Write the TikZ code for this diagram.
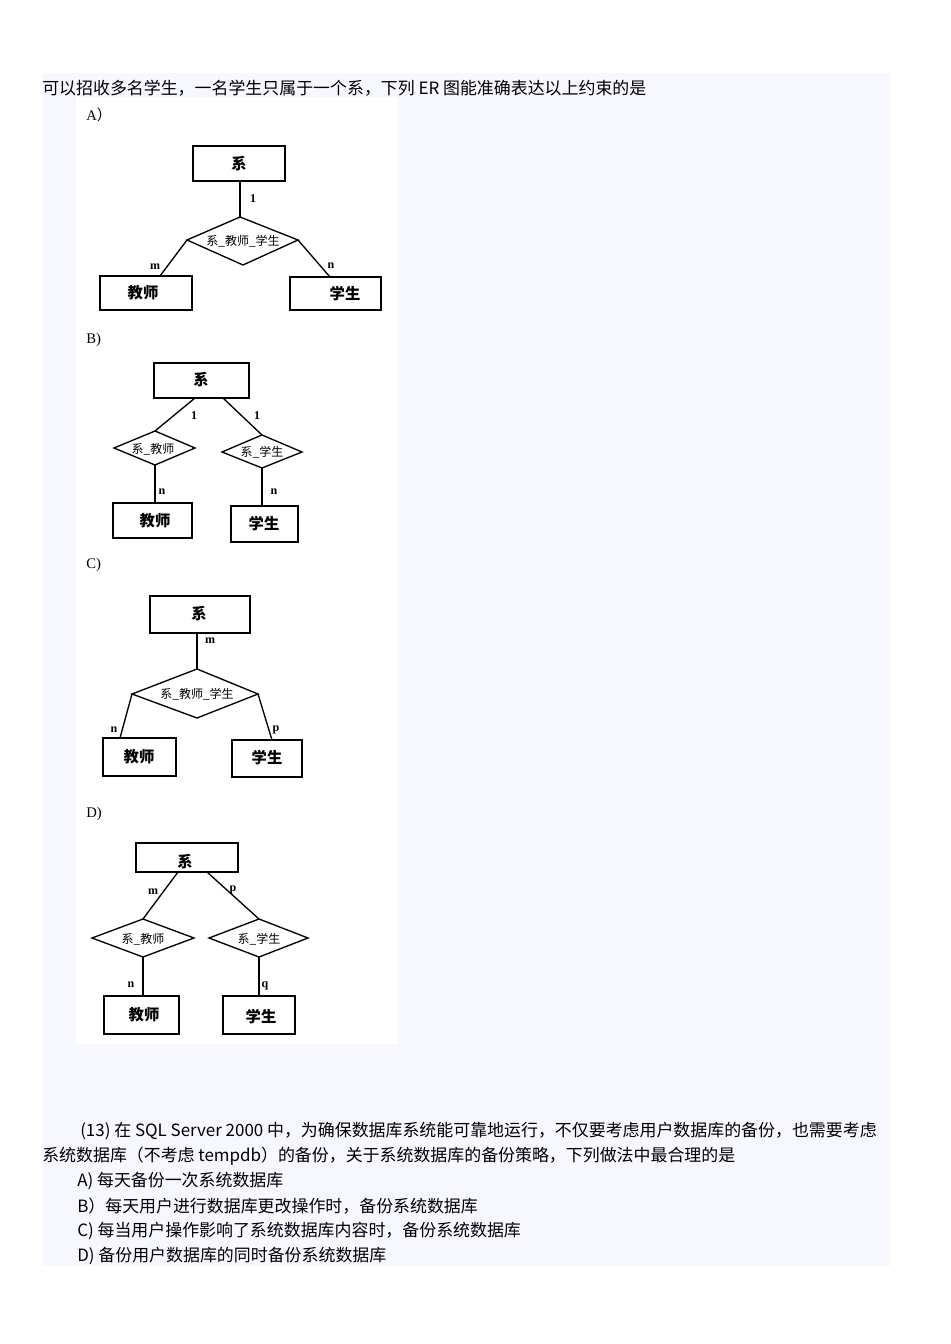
\documentclass[tikz,border=0pt]{standalone}
\usepackage{fontspec}
\setmainfont{DejaVu Sans}
\newfontfamily\cjk{Noto Sans CJK SC}
\newfontfamily\serifl{Liberation Serif}
\begin{document}
\begin{tikzpicture}[x=0.75pt,y=-0.75pt,
  ent/.style={draw,line width=1pt,inner sep=0pt},
  ln/.style={line width=1pt},
  lab/.style={font=\serifl\bfseries\fontsize{9}{10}\selectfont,inner sep=0pt},
  dtxt/.style={font=\cjk\bfseries\fontsize{11.5}{13}\selectfont,inner sep=0pt},
  stxt/.style={font=\cjk\fontsize{9}{10}\selectfont,inner sep=0pt},
  opt/.style={font=\serifl\fontsize{11}{12}\selectfont,inner sep=0pt,anchor=west},
  body/.style={font=\cjk\fontsize{12.7}{14}\selectfont,inner sep=0pt,anchor=west}]
\useasboundingbox (0,0) rectangle (950,1344);
\fill[white] (0,0) rectangle (950,1344);
\fill[blue!3!white] (42,73) rectangle (890,1266);
\fill[white] (76,97) rectangle (398,1044);
\node[body] (t0) at (42,88) {可以招收多名学生，一名学生只属于一个系，下列 ER 图能准确表达以上约束的是};
% A
\node[opt] (la) at (86,115) {A{\cjk ）}};
\draw[ent] (193,146) rectangle (285,181); \node[dtxt] (a1) at (239,164) {系};
\draw[ln] (240,181) -- (240,217);
\draw[ln] (240,217) -- (298,240) -- (243,265) -- (187,240) -- cycle;
\node[stxt] (a2) at (243,241) {系\_教师\_学生};
\node[lab] at (253,199) {1};
\draw[ln] (187,240) -- (160,276); \node[lab] at (155,267) {m};
\draw[ln] (298,240) -- (330,277); \node[lab] at (331,266) {n};
\draw[ent] (100,276) rectangle (192,310); \node[dtxt] (a3) at (143,293) {教师};
\draw[ent] (290,277) rectangle (381,310); \node[dtxt] (a4) at (345,294) {学生};
% B
\node[opt] (lb) at (86,340) {B)};
\draw[ent] (154,363) rectangle (249,398); \node[dtxt] (b1) at (201,380) {系};
\draw[ln] (195,398) -- (155,431); \node[lab] at (194,416) {1};
\draw[ln] (223,398) -- (262,435); \node[lab] at (257,416) {1};
\draw[ln] (155,431) -- (195,448) -- (155,465) -- (114,448) -- cycle;
\node[stxt] at (153,449) {系\_教师};
\draw[ln] (262,435) -- (302,452) -- (262,468) -- (222,452) -- cycle;
\node[stxt] at (262,452) {系\_学生};
\draw[ln] (155,465) -- (155,503); \node[lab] at (162,492) {n};
\draw[ln] (262,468) -- (262,506); \node[lab] at (274,492) {n};
\draw[ent] (113,503) rectangle (192,538); \node[dtxt] at (155,521) {教师};
\draw[ent] (231,506) rectangle (298,542); \node[dtxt] at (264,524) {学生};
% C
\node[opt] (lc) at (86,565) {C)};
\draw[ent] (150,596) rectangle (250,633); \node[dtxt] at (199,614) {系};
\draw[ln] (197,633) -- (197,669); \node[lab] at (210,641) {m};
\draw[ln] (197,669) -- (258,694) -- (197,718) -- (132,694) -- cycle;
\node[stxt] at (197,694) {系\_教师\_学生};
\draw[ln] (132,694) -- (120,738); \node[lab] at (114,730) {n};
\draw[ln] (258,694) -- (272,740); \node[lab] at (276,730) {p};
\draw[ent] (103,738) rectangle (176,776); \node[dtxt] at (139,757) {教师};
\draw[ent] (232,740) rectangle (302,777); \node[dtxt] at (267,758) {学生};
% D
\node[opt] (ld) at (86,814) {D)};
\draw[ent] (136,843) rectangle (238,872); \node[dtxt] at (185,862) {系};
\draw[ln] (178,872) -- (143,919); \node[lab] at (153,892) {m};
\draw[ln] (207,872) -- (259,919); \node[lab] at (233,890) {p};
\draw[ln] (143,919) -- (194,938) -- (143,957) -- (92,938) -- cycle;
\node[stxt] at (143,939) {系\_教师};
\draw[ln] (259,919) -- (308,938) -- (259,957) -- (209,938) -- cycle;
\node[stxt] at (259,939) {系\_学生};
\draw[ln] (143,957) -- (143,996); \node[lab] at (131,985) {n};
\draw[ln] (259,957) -- (259,996); \node[lab] at (265,986) {q};
\draw[ent] (104,996) rectangle (179,1034); \node[dtxt] at (144,1015) {教师};
\draw[ent] (223,996) rectangle (295,1034); \node[dtxt] at (261,1017) {学生};
% bottom text
\node[body] at (80,1131) {(13) 在 SQL Server 2000 中，为确保数据库系统能可靠地运行，不仅要考虑用户数据库的备份，也需要考虑};
\node[body] at (42,1156) {系统数据库（不考虑 tempdb）的备份，关于系统数据库的备份策略，下列做法中最合理的是};
\node[body] at (77,1181) {A) 每天备份一次系统数据库};
\node[body] at (77,1206) {B）每天用户进行数据库更改操作时，备份系统数据库};
\node[body] at (77,1231) {C) 每当用户操作影响了系统数据库内容时，备份系统数据库};
\node[body] at (77,1256) {D) 备份用户数据库的同时备份系统数据库};
\end{tikzpicture}
\end{document}
